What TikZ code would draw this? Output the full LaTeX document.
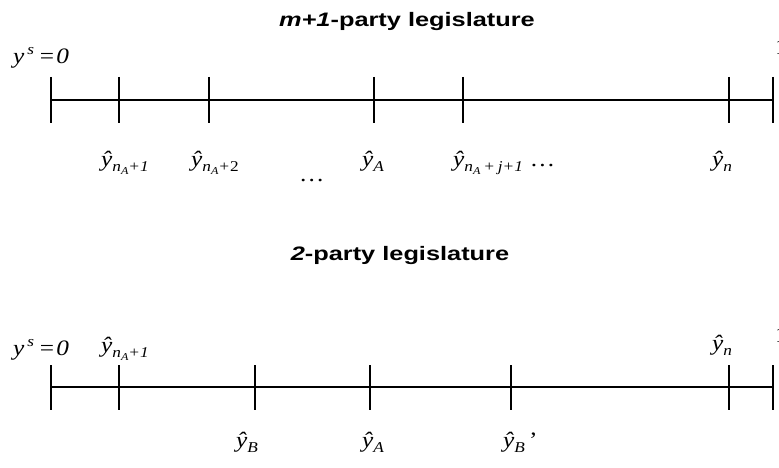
\documentclass[tikz,border=0pt]{standalone}
\usepackage{fontspec}
\usepackage{graphicx}
\setmainfont{Liberation Serif}
\newfontfamily\ttlfont{Liberation Sans}
\newcommand{\hsx}[1]{\scalebox{1.3}[1]{#1}}
\newcommand{\lsx}[1]{\scalebox{1.15}[1]{#1}}
\newcommand{\bigsz}{\fontsize{22}{26}\selectfont}
\newcommand{\midsz}{\fontsize{15}{17}\selectfont}
\newcommand{\smsz}{\fontsize{10.5}{12}\selectfont}
\newcommand{\yhat}{{\bigsz\itshape ŷ}}
\newcommand{\lsub}[1]{\raisebox{-5pt}{\midsz\itshape #1}}
\newcommand{\lsubsub}[1]{\raisebox{-3pt}{\smsz\itshape #1}}
\newcommand{\ysz}{\lsx{{\bigsz\itshape y}\raisebox{9pt}{\midsz\itshape\,s}\hspace{5pt}{\bigsz =\hspace{2pt}\itshape 0}}}
\tikzset{
  axisline/.style={line width=1.6pt, black},
  tickline/.style={line width=1.6pt, black},
  lbl/.style={inner sep=0pt, anchor=base west},
  ttl/.style={inner sep=0pt, anchor=base, font=\ttlfont\bfseries\fontsize{19.5}{22}\selectfont},
}
\begin{document}
\begin{tikzpicture}[x=1pt,y=-1pt]
\useasboundingbox (0,0) rectangle (779,468);
% titles
\node[ttl] (t1) at (407,27) {\hsx{\textit{m+1}-party legislature}};
\node[ttl] (t2) at (400,260) {\hsx{\textit{2}-party legislature}};
% top axis
\coordinate (a0) at (51,100);
\coordinate (a1) at (773,100);
\draw[axisline] (a0) -- (a1);
\foreach \x/\n in {51/p0,119/p1,209/p2,374/pA,463/pj,729/pn,773/pe}{
  \coordinate (\n top) at (\x,77);
  \coordinate (\n bot) at (\x,123);
  \draw[tickline] (\n top) -- (\n bot);
}
\node[lbl] (ys1) at (13,64) {\ysz};
\node[lbl] (one1) at (775,55) {\lsx{\bigsz 1}};
\node[lbl] (l1) at (101,167) {\lsx{\yhat\lsub{n\lsubsub{A}+1}}};
\node[lbl] (l2) at (191,167) {\lsx{\yhat\lsub{n\lsubsub{A}+\upshape 2}}};
\node[lbl] (dots1) at (299,182) {\lsx{\bigsz\ldots}};
\node[lbl] (lA) at (362,167) {\lsx{\yhat\lsub{A}}};
\node[lbl] (lj) at (453,167) {\lsx{\yhat\lsub{n\lsubsub{A}\,+\,j+1}\hspace{6pt}{\bigsz\ldots}}};
\node[lbl] (ln) at (712,167) {\lsx{\yhat\lsub{n}}};
% bottom axis
\coordinate (b0) at (51,387);
\coordinate (b1) at (773,387);
\draw[axisline] (b0) -- (b1);
\foreach \x/\n in {51/q0,119/q1,255/qB,370/qA,511/qC,729/qn,773/qe}{
  \coordinate (\n top) at (\x,365);
  \coordinate (\n bot) at (\x,410);
  \draw[tickline] (\n top) -- (\n bot);
}
\node[lbl] (ys2) at (13,355) {\ysz};
\node[lbl] (one2) at (775,342) {\lsx{\bigsz 1}};
\node[lbl] (m1) at (101,352) {\lsx{\yhat\lsub{n\lsubsub{A}+1}}};
\node[lbl] (mn) at (712,350) {\lsx{\yhat\lsub{n}}};
\node[lbl] (mB) at (236,447) {\lsx{\yhat\lsub{B}}};
\node[lbl] (mA) at (362,447) {\lsx{\yhat\lsub{A}}};
\node[lbl] (mC) at (503,447) {\lsx{\yhat\lsub{B}{\bigsz\,'}}};
\end{tikzpicture}
\end{document}
